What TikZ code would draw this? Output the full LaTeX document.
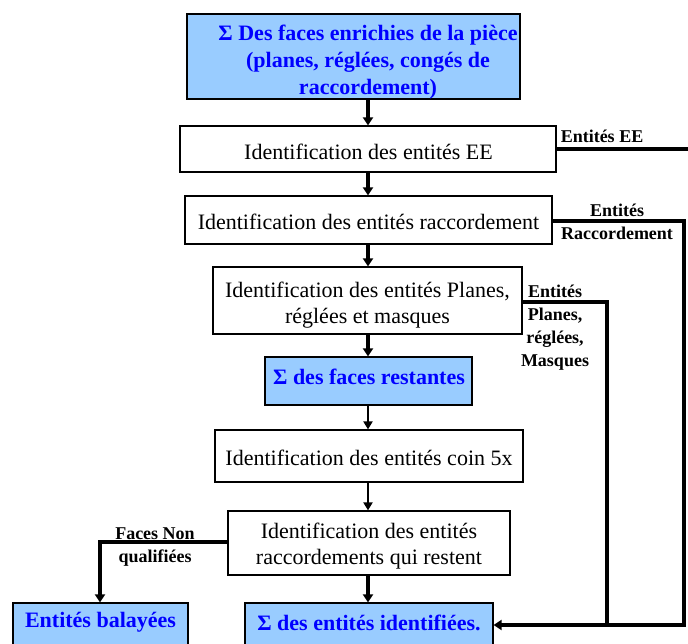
\documentclass[tikz,border=0pt]{standalone}
\usepackage{fontspec}
\setmainfont{Liberation Serif}
\usetikzlibrary{arrows.meta}
\definecolor{boxblue}{RGB}{153,204,255}
\definecolor{txtblue}{RGB}{0,0,255}
\begin{document}
\begin{tikzpicture}[x=1pt,y=-1pt,
  procbox/.style={draw, line width=1.2pt, fill=white, inner sep=0pt},
  bluebox/.style={draw, line width=1.2pt, fill=boxblue, inner sep=0pt},
  proctext/.style={align=center, inner sep=0pt, font=\fontsize{22}{26}\selectfont},
  bluetext/.style={align=center, inner sep=0pt, text=txtblue, font=\bfseries\fontsize{22}{27}\selectfont},
  flow/.style={line width=4pt, -{Triangle[width=10pt,length=8pt]}},
  thinflow/.style={line width=2.2pt, -{Triangle[width=9pt,length=8pt]}},
  link/.style={line width=4pt},
  tag/.style={font=\bfseries\fontsize{18}{23}\selectfont, align=center, inner sep=0pt}]
\useasboundingbox (0,0) rectangle (688,644);
\clip (0,0) rectangle (688,644);
\fill[white] (0,0) rectangle (688,644);

% boxes
\node[bluebox, minimum width=333pt, minimum height=85pt] (b1) at (353.5,56.5) {};
\node[procbox, minimum width=376pt, minimum height=46pt] (b2) at (368,149) {};
\node[procbox, minimum width=367pt, minimum height=48pt] (b3) at (368.5,220) {};
\node[procbox, minimum width=309pt, minimum height=67pt] (b4) at (367.5,300.5) {};
\node[bluebox, minimum width=207pt, minimum height=48pt] (b5) at (368.5,381) {};
\node[procbox, minimum width=308pt, minimum height=52pt] (b6) at (369,456) {};
\node[procbox, minimum width=282pt, minimum height=64pt] (b7) at (369,543) {};
\node[bluebox, minimum width=175pt, minimum height=44pt] (b8) at (100.5,625) {};
\node[bluebox, minimum width=248pt, minimum height=44pt] (b9) at (369,625) {};

% box texts
\node[bluetext] (b1t) at (368,62.5)
  {Σ Des faces enrichies de la pièce\\(planes, réglées, congés de\\raccordement)};
\node[proctext] (b2t) at (368.5,152) {Identification des entités EE};
\node[proctext] (b3t) at (368.5,222) {Identification des entités raccordement};
\node[proctext] (b4t) at (367.5,305.5) {Identification des entités Planes,\\réglées et masques};
\node[bluetext] (b5t) at (369,377) {Σ des faces restantes};
\node[proctext] (b6t) at (369,458) {Identification des entités coin 5x};
\node[proctext] (b7t) at (369,546) {Identification des entités\\raccordements qui restent};
\node[bluetext] (b8t) at (100.5,622) {Entités balayées};
\node[bluetext] (b9t) at (369,622.5) {Σ des entités identifiées.};

% main flow
\coordinate (ax) at (368,0);
\draw[flow] (b1.south -| ax) -- (b2.north -| ax);
\draw[flow] (b2.south -| ax) -- (b3.north -| ax);
\draw[flow] (b3.south -| ax) -- (b4.north -| ax);
\draw[flow] (b4.south -| ax) -- (b5.north -| ax);
\draw[thinflow] (b5.south -| ax) -- (b6.north -| ax);
\draw[thinflow] (b6.south -| ax) -- (b7.north -| ax);
\draw[flow] (b7.south -| ax) -- (b9.north -| ax);

% side connectors
\coordinate (ee) at (692,149);
\draw[link] (b2.east |- ee) -- (ee);
\coordinate (rc1) at (684,221);
\coordinate (rc2) at (684,625);
\draw[flow] (b3.east |- rc1) -- (rc1) -- (rc2) -- (b9.east);
\coordinate (pl1) at (607,302);
\coordinate (pl2) at (607,625);
\draw[link] (b4.east |- pl1) -- (pl1) -- (pl2);
\coordinate (fq) at (100,542);
\draw[flow] (b7.west |- fq) -- (fq) -- (fq |- b8.north);

% connector labels
\node[tag] (tee) at (602,136) {Entités EE};
\node[tag] (trc) at (617,221.5) {Entités\\Raccordement};
\node[tag] (tpl) at (555,327.5) {Entités\\Planes,\\réglées,\\Masques};
\node[tag] (tfq) at (155,547.5) {Faces Non\\qualifiées};
\end{tikzpicture}
\end{document}
